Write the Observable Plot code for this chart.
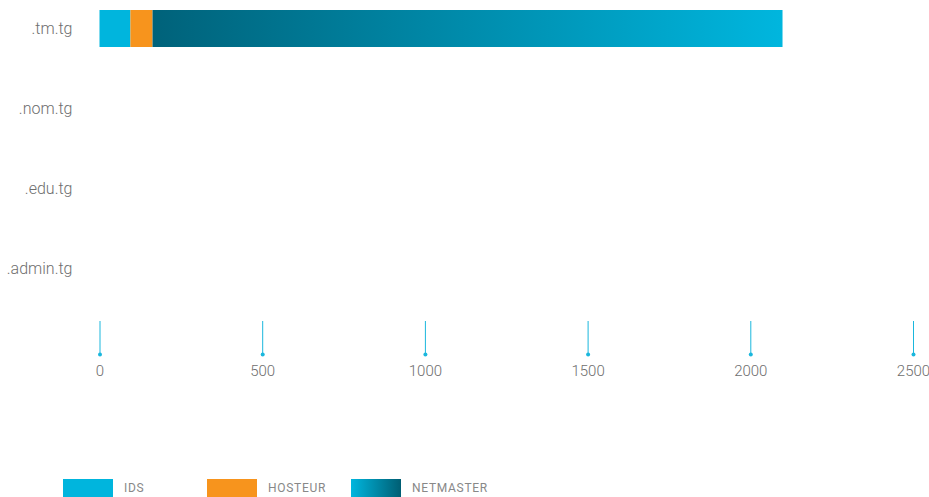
<!DOCTYPE html>
<html><head><meta charset="utf-8">
<script src="https://cdn.jsdelivr.net/npm/d3@7"></script>
<script src="https://cdn.jsdelivr.net/npm/@observablehq/plot@0.6"></script>
<style>
body{margin:0;background:#fff;font-family:Roboto, sans-serif;}
#chart svg{display:block;}
#chart svg text{font-weight:300;}
#legend{position:relative;height:27px;width:929px;}
.item{position:absolute;top:9px;height:18px;display:flex;align-items:center;}
.sw{width:50px;height:18px;}
.lb{margin-left:11px;font-size:12px;color:#888;letter-spacing:0.7px;}
</style></head><body>
<div id="chart"></div>
<div id="legend"></div>
<script>
const domains = [".tm.tg", ".nom.tg", ".edu.tg", ".admin.tg"];
const seriesNames = ["IDS", "HOSTEUR", "NETMASTER"];
const idsValues = [95, 0, 0, 0];
const hosteurValues = [68, 0, 0, 0];
const netmasterValues = [1936, 0, 0, 0];
const xTicks = [0, 500, 1000, 1500, 2000, 2500];

const seriesValues = [idsValues, hosteurValues, netmasterValues];
const data = [];
domains.forEach((d, i) => {
  seriesNames.forEach((s, j) => data.push({domain: d, type: s, value: seriesValues[j][i]}));
});

const defs = () => {
  const g = d3.create("svg:defs");
  const lg = g.append("linearGradient").attr("id", "netGrad").attr("x1", "0").attr("x2", "1").attr("y1", "0").attr("y2", "0");
  lg.append("stop").attr("offset", "0%").attr("stop-color", "#00627a");
  lg.append("stop").attr("offset", "100%").attr("stop-color", "#00b6de");
  return g.node();
};

const chart = Plot.plot({
  width: 929,
  height: 470,
  marginLeft: 99,
  marginRight: 16,
  marginTop: 0,
  marginBottom: 149,
  style: {fontFamily: "Roboto, sans-serif", background: "#fff"},
  x: {domain: [0, 2500], range: [99.5, 913]},
  y: {domain: domains, range: [9, 286.8], paddingInner: 0.54, paddingOuter: 0},
  color: {domain: seriesNames, range: ["#00b5dd", "#f7941d", "url(#netGrad)"]},
  marks: [
    defs,
    Plot.barX(data, {y: "domain", x: "value", fill: "type", inset: 0}),
    Plot.axisY({tickSize: 0, tickPadding: 27, fontSize: 16, fill: "#6e6e6e", label: null}),
    Plot.axisX({ticks: xTicks, tickSize: 33, tickPadding: 11, stroke: "#1ab7dd", strokeOpacity: 1, fill: "#6e6e6e", fontSize: 15, label: null, tickFormat: d => String(d)}),
    Plot.dot(xTicks, {x: d => d, frameAnchor: "bottom", dy: 33, r: 2, fill: "#1ab7dd", stroke: "none"})
  ]
});
document.getElementById("chart").appendChild(chart);

const legendColors = ["#00b5dd", "#f7941d", "linear-gradient(to right, #00b6de, #005e73)"];
const legend = document.getElementById("legend");
seriesNames.forEach((s, i) => {
  const it = document.createElement("div");
  it.className = "item";
  it.style.left = (63 + i * 144) + "px";
  const sw = document.createElement("div");
  sw.className = "sw";
  sw.style.background = legendColors[i];
  const lb = document.createElement("span");
  lb.className = "lb";
  lb.textContent = s;
  it.appendChild(sw); it.appendChild(lb);
  legend.appendChild(it);
});
</script>
</body></html>
